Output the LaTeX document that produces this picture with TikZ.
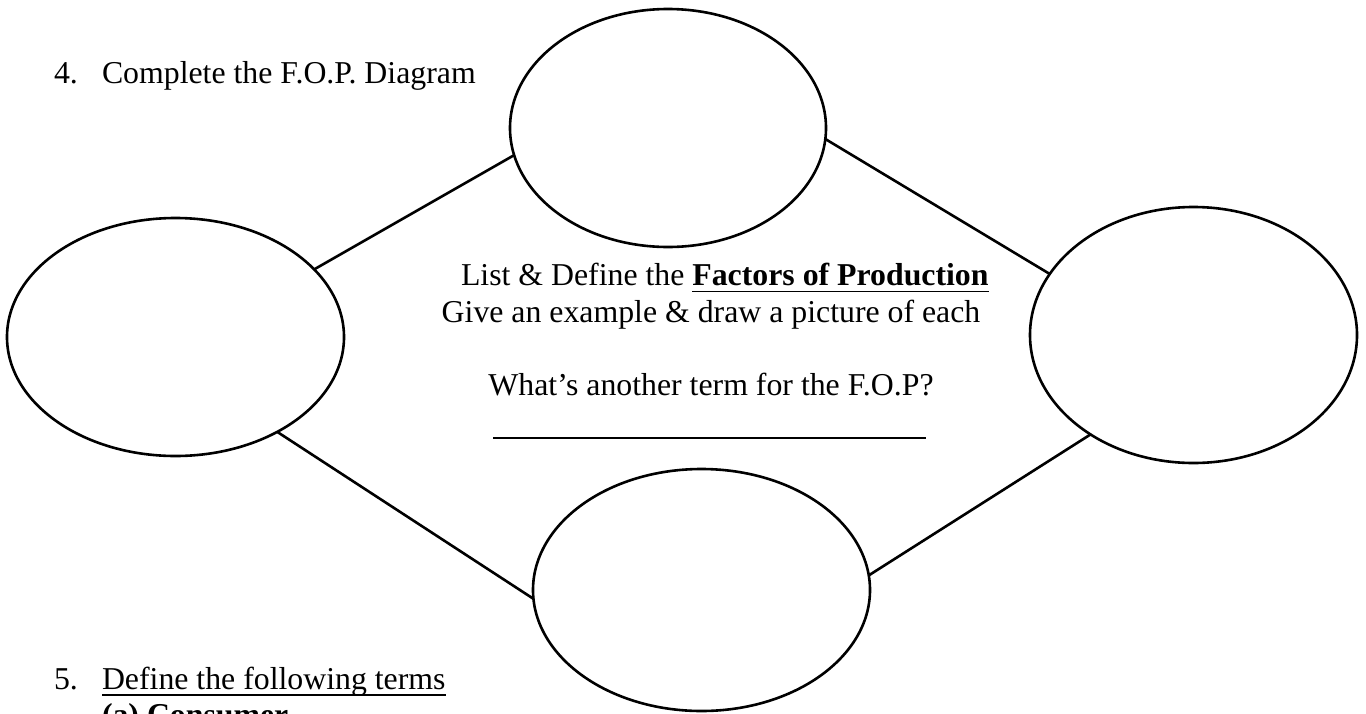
\documentclass[tikz,border=0pt]{standalone}
\usepackage{fontspec}
\setmainfont{Liberation Serif}
\usetikzlibrary{shapes.geometric}
\begin{document}
\begin{tikzpicture}[x=1pt,y=-1pt,
  oval/.style={draw=black, line width=2.6pt, ellipse, inner sep=0pt, outer sep=0pt},
  link/.style={draw=black, line width=2.6pt},
  txt/.style={inner sep=0pt, outer sep=0pt, font=\fontsize{31.8pt}{36.6pt}\selectfont},
  btxt/.style={inner sep=0pt, outer sep=0pt, font=\fontsize{31.8pt}{36.6pt}\selectfont\bfseries},
  ul/.style={line width=1.5pt}]
\useasboundingbox (0,0) rectangle (1366,713);
% ovals
\node[oval, minimum width=316pt, minimum height=238pt] (ft) at (668,128) {};
\node[oval, minimum width=337pt, minimum height=238pt] (fl) at (175.5,337) {};
\node[oval, minimum width=327pt, minimum height=256pt] (fr) at (1193.5,335) {};
\node[oval, minimum width=337pt, minimum height=242pt] (fb) at (701.5,590) {};
% connectors
\draw[link] (fl.26) -- (ft.190);
\draw[link] (ft.356) -- (fr.157);
\draw[link] (fl.317) -- (fb.183);
\draw[link] (fb.5) -- (fr.224);
% question texts
\node[txt, anchor=base west] (n4) at (54,83) {4.};
\node[txt, anchor=base west] (q4) at (102,83) {Complete the F.O.P. Diagram};
\node[txt, anchor=base west] (n5) at (54,689) {5.};
\node[txt, anchor=base west] (q5) at (102,689) {Define the following terms};
\draw[ul] ([yshift=-6pt]q5.base west) -- ([yshift=-6pt]q5.base east);
\node[btxt, anchor=base west] (qa) at (102,725.6) {(a) Consumer};
% centre texts
\node[txt, anchor=base west] (l1a) at (461,285.4) {List \& Define the};
\node[btxt, anchor=base west] (l1b) at ([xshift=7.95pt]l1a.base east) {Factors of Production};
\draw[ul] ([yshift=-6pt]l1b.base west) -- ([yshift=-6pt]l1b.base east);
\node[txt, anchor=base] (l2) at (711,322) {Give an example \& draw a picture of each};
\node[txt, anchor=base] (l3) at (711,395) {What’s another term for the F.O.P?};
\coordinate (u1) at (493,438);
\coordinate (u2) at (926,438);
\draw[line width=1.3pt] (u1) -- (u2);
\end{tikzpicture}
\end{document}
